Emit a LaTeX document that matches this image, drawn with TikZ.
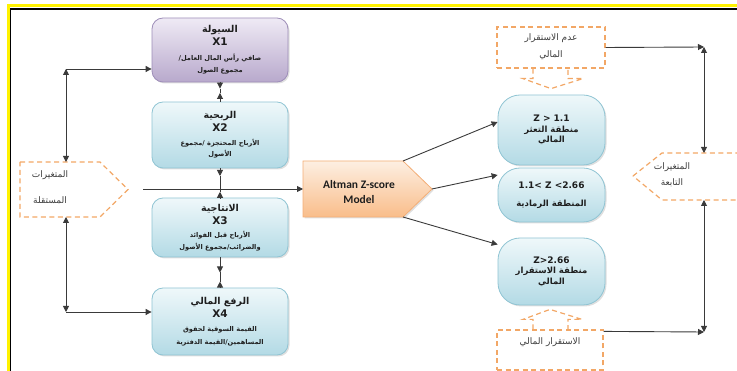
\documentclass[tikz,border=0pt]{standalone}
\usepackage{fontspec}
\setmainfont{DejaVu Sans}
\newfontfamily\arabicfont[Script=Arabic]{DejaVu Sans}
\newfontfamily\calib{Carlito}
\TeXXeTstate=1
\usetikzlibrary{arrows.meta,shadows,calc}

\definecolor{lineC}{HTML}{3A3A3A}
\definecolor{dashC}{HTML}{F2A766}
\definecolor{txtC}{HTML}{1E1E1E}
\definecolor{dtxtC}{HTML}{3C3C3C}
\definecolor{purTop}{HTML}{EFEAF5}
\definecolor{purBot}{HTML}{B8A9CC}
\definecolor{purEdge}{HTML}{9D8DB8}
\definecolor{cyTop}{HTML}{EFF8FA}
\definecolor{cyBot}{HTML}{B3DAE5}
\definecolor{cyEdge}{HTML}{8FC4D3}
\definecolor{orTop}{HTML}{FDEFE2}
\definecolor{orBot}{HTML}{F9BD8A}
\definecolor{orEdge}{HTML}{F4AE76}

% right-to-left Arabic run
\newcommand\AR[1]{{\arabicfont\beginR #1\endR}}
\newcommand\ttl[1]{{\fontsize{9.5}{11}\selectfont\bfseries\AR{#1}}}
\newcommand\xl[1]{{\fontsize{10.5}{12}\selectfont\bfseries #1}}
\newcommand\ds[1]{{\fontsize{6.6}{9}\selectfont\bfseries\AR{#1}}}
\newcommand\zl[1]{{\fontsize{9}{11}\selectfont\bfseries #1}}
\newcommand\zt[1]{{\fontsize{8.5}{10}\selectfont\bfseries\AR{#1}}}
\newcommand\dt[1]{{\fontsize{9}{11}\selectfont\AR{#1}}}

\tikzset{
  arr/.style={draw=lineC, line width=0.9pt, -{Triangle[length=6pt,width=6pt]}},
  arrb/.style={draw=lineC, line width=0.9pt, {Triangle[length=6pt,width=6pt]}-{Triangle[length=6pt,width=6pt]}},
  plain/.style={draw=lineC, line width=0.9pt},
  xbox/.style={rounded corners=11pt, minimum width=136pt, align=center,
    inner sep=2pt, text=txtC, font=\fontsize{7}{10.5}\selectfont,
    line width=0.8pt, drop shadow={opacity=.25, shadow xshift=1.5pt, shadow yshift=-1.5pt}},
  pbox/.style={xbox, draw=purEdge, top color=purTop, bottom color=purBot},
  cbox/.style={xbox, draw=cyEdge, top color=cyTop, bottom color=cyBot},
  zbox/.style={cbox, rounded corners=22pt, minimum width=107pt},
  dbox/.style={draw=dashC, line width=1.2pt, dash pattern=on 5pt off 3.5pt},
  dtext/.style={text=dtxtC, align=center, inner sep=1pt, font=\fontsize{9}{14}\selectfont},
}

\begin{document}
\begin{tikzpicture}[x=1pt,y=-1pt]
\useasboundingbox (0,0) rectangle (737,371);

% page frame
\draw[yellow, line width=3pt] (8,6) rectangle (780,420);
\draw[black, line width=1.3pt] (10.8,9) rectangle (780,420);

% independent variables
\node[pbox, minimum height=64pt] (X1) at (220,50)
  {\ttl{السيولة}\\[2.5pt] \xl{X1}\\[4pt] \ds{صافي رأس المال العامل/}\\[1.8pt] \ds{مجموع الصول}};
\node[cbox, minimum height=66pt] (X2) at (220,135)
  {\ttl{الربحية}\\[2.5pt] \xl{X2}\\[3pt] \ds{الأرباح المحتجزة /مجموع}\\[1pt] \ds{الأصول}};
\node[cbox, minimum height=59pt] (X3) at (220,227.5)
  {\ttl{الانتاجية}\\[2.5pt] \xl{X3}\\[3pt] \ds{الأرباح قبل الفوائد}\\[1pt] \ds{والضرائب/مجموع الأصول}};
\node[cbox, minimum height=67pt] (X4) at (220,321.5)
  {\ttl{الرفع المالي}\\[2.5pt] \xl{X4}\\[4pt] \ds{القيمة السوقية لحقوق}\\[1.8pt] \ds{المساهمين/القيمة الدفترية}};

% left dashed pentagon
\draw[dbox] (20,162) -- (100,162) -- (128,189.5) -- (100,217) -- (20,217) -- cycle;
\node[dtext, font=\fontsize{9}{26}\selectfont] (ind) at (50,187) {\dt{المتغيرات}\\ \dt{المستقلة}};
\coordinate (indtop) at (66,162);
\coordinate (indbot) at (66,217);
\coordinate (L1) at (66,69);
\coordinate (L4) at (66,312);
\draw[arrb] (L1) -- (indtop);
\draw[arrb] (indbot) -- (L4);
\draw[arr] (L1) -- (L1 -| X1.west);
\draw[arr] (L4) -- (L4 -| X4.west);

% links between the ratio boxes
\path (X1.south) -- (X2.north) coordinate[pos=.32] (a12) coordinate[pos=.55] (b12);
\draw[arr] (X1.south) -- (a12);
\draw[plain] (a12) -- (b12);
\draw[arr] (X2.north) -- (b12);
\path (X2.south) -- (X3.north) coordinate[pos=.26] (a23) coordinate[pos=.8] (b23);
\draw[arr] (X2.south) -- (a23);
\draw[plain] (a23) -- (b23);
\draw[arr] (X3.north) -- (b23);
\path (X3.south) -- (X4.north) coordinate[pos=.5] (a34) coordinate[pos=.8] (b34);
\draw[arr] (X3.south) -- (a34);
\draw[plain] (a34) -- (b34);
\draw[arr] (X4.north) -- (b34);

% model
\coordinate (mNW) at (303,161);
\coordinate (mNE) at (403,161);
\coordinate (mTip) at (432,189);
\coordinate (mSE) at (403,217);
\coordinate (mSW) at (303,217);
\coordinate (mW) at (303,189);
\path[draw=orEdge, line width=0.8pt, top color=orTop, bottom color=orBot,
  drop shadow={opacity=.25, shadow xshift=1.5pt, shadow yshift=-1.5pt}]
  (mNW) -- (mNE) -- (mTip) -- (mSE) -- (mSW) -- cycle;
\node[align=center, text=txtC, font=\calib\bfseries\fontsize{11.5}{15}\selectfont] (model) at (359,192)
  {Altman Z-score\\ Model};
\coordinate (M0) at (143,189);
\draw[arr] (M0) -- (mW);

% zones
\node[zbox, minimum height=70pt] (Z1) at (551.5,130)
  {\zl{Z > 1.1}\\ \zt{منطقة التعثر}\\ \zt{المالي}};
\node[zbox, minimum height=54pt] (Z2) at (551.5,195)
  {\zl{1.1< Z <2.66}\\[7pt] \zt{المنطقة الرمادية}};
\node[zbox, minimum height=67pt] (Z3) at (551.5,271.5)
  {\zl{Z>2.66}\\ \zt{منطقة الاستقرار}\\ \zt{المالي}};
\draw[arr] (mNE) -- ([yshift=8pt]Z1.west);
\draw[arr] (mTip) -- ([yshift=20pt]Z2.west);
\draw[arr] (mSE) -- ([yshift=27pt]Z3.west);

% outcome callouts
\node[dbox, minimum width=108pt, minimum height=41pt] (unst) at (551,47.5) {};
\node[dtext, font=\fontsize{9}{17}\selectfont] (unsttxt) at (551,46.5) {\dt{عدم الاستقرار}\\ \dt{المالي}};
\draw[dbox] ($(unst.south)+(-18,0)$) -- ++(0,10) -- ++(-10,0) -- ($(unst.south)+(0,20)$)
  -- ($(unst.south)+(32,10)$) -- ++(-15,0) -- ++(0,-10);
\node[dbox, minimum width=106pt, minimum height=40pt] (stab) at (550,350) {};
\node[dtext] (stabtxt) at (550,342) {\dt{الاستقرار المالي}};
\draw[dbox] ($(stab.north)+(-17,0)$) -- ++(0,-10) -- ++(-10,0) -- ($(stab.north)+(0,-20)$)
  -- ($(stab.north)+(32,-10)$) -- ++(-14,0) -- ++(0,10);

% dependent variables
\draw[dbox] (633,176) -- (662,153) -- (780,153) -- (780,200) -- (662,200) -- cycle;
\node[dtext, font=\fontsize{9}{16}\selectfont] (dep) at (672,175) {\dt{المتغيرات}\\ \dt{التابعة}};
\coordinate (deptop) at (704,153);
\coordinate (depbot) at (704,200);
\coordinate (RT) at (704,47);
\coordinate (RB) at (704,332);
\draw[arr] (unst.east) -- (RT);
\draw[arrb] (RT) -- (deptop);
\draw[arr] ([yshift=-2pt]stab.north east) -- (RB);
\draw[arrb] (depbot) -- (RB);
\end{tikzpicture}
\end{document}
